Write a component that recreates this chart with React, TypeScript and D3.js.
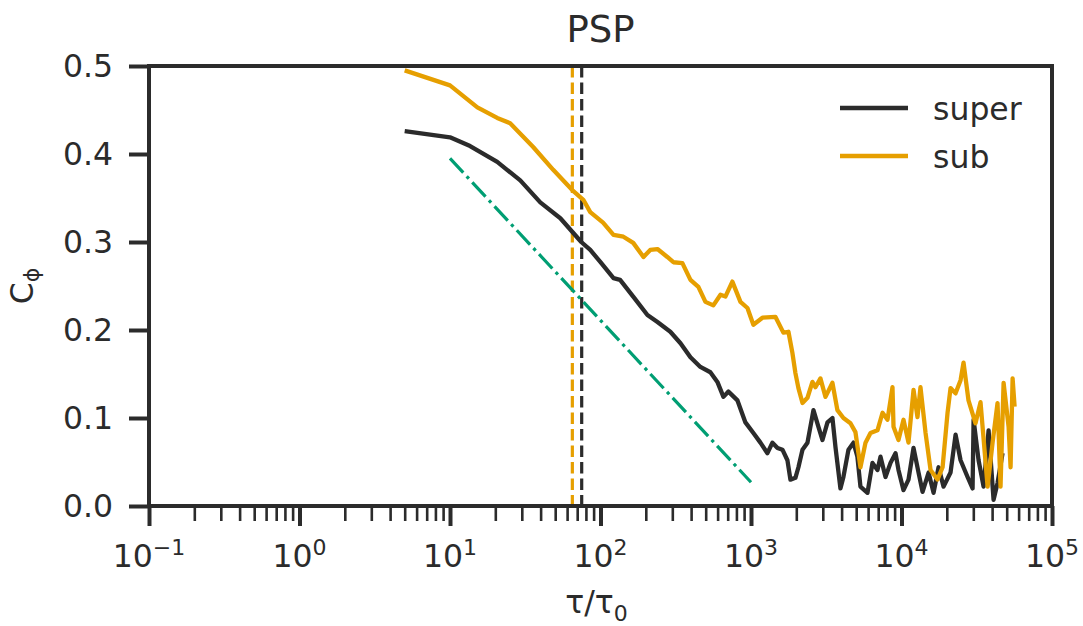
import { useEffect, useRef } from "react";
import * as d3 from "d3";

// tau / tau0 and C_phi for each series
const superTau = [5, 10, 13.6, 20.6, 29.3, 39.8, 54.1, 74.5, 85.5, 100, 122, 135, 165, 205, 239, 291, 340, 396, 461, 537, 598, 656, 708, 813, 918, 1037, 1155, 1286, 1388, 1500, 1618, 1746, 1828, 1973, 2066, 2198, 2373, 2600, 2806, 2985, 3222, 3477, 3641, 3929, 4113, 4443, 4797, 5094, 5336, 5943, 6414, 6925, 7252, 7830, 8453, 9125, 9550, 10310, 11130, 12020, 12980, 13800, 15130, 16330, 17630, 19030, 21180, 22870, 24690, 27480, 29670, 30130, 32520, 35110, 37900, 40910, 43460, 46930];
const superC = [0.426, 0.419, 0.409, 0.391, 0.37, 0.345, 0.327, 0.3, 0.291, 0.277, 0.259, 0.257, 0.238, 0.217, 0.209, 0.198, 0.185, 0.169, 0.158, 0.152, 0.141, 0.124, 0.13, 0.12, 0.095, 0.083, 0.072, 0.06, 0.072, 0.066, 0.064, 0.052, 0.03, 0.032, 0.044, 0.064, 0.072, 0.109, 0.09, 0.075, 0.095, 0.1, 0.067, 0.02, 0.033, 0.064, 0.072, 0.056, 0.022, 0.015, 0.049, 0.041, 0.056, 0.033, 0.049, 0.06, 0.041, 0.018, 0.03, 0.066, 0.038, 0.016, 0.038, 0.015, 0.044, 0.022, 0.038, 0.081, 0.052, 0.033, 0.02, 0.098, 0.052, 0.022, 0.086, 0.007, 0.026, 0.06];

const subTau = [5, 10, 15.2, 20.6, 25.1, 35.7, 48.5, 64.9, 76.9, 85.5, 104, 122, 142, 165, 193, 214, 239, 278, 305, 350, 396, 447, 498, 562, 627, 676, 752, 851, 947, 1037, 1191, 1452, 1641, 1773, 1884, 1973, 2066, 2198, 2373, 2560, 2680, 2893, 3125, 3477, 3750, 4113, 4581, 4943, 5336, 5765, 6223, 6925, 7480, 8072, 8714, 8850, 9550, 10310, 11130, 12020, 12770, 13370, 14450, 15600, 17340, 18750, 20230, 21180, 22870, 24690, 25830, 27870, 31030, 33500, 37330, 40280, 43460, 45500, 47680, 51470, 53060, 54730, 56430];
const subC = [0.495, 0.478, 0.453, 0.441, 0.435, 0.408, 0.382, 0.359, 0.348, 0.334, 0.322, 0.308, 0.306, 0.299, 0.283, 0.291, 0.292, 0.283, 0.277, 0.276, 0.257, 0.249, 0.232, 0.228, 0.24, 0.238, 0.255, 0.232, 0.225, 0.206, 0.214, 0.215, 0.197, 0.198, 0.174, 0.151, 0.134, 0.117, 0.123, 0.141, 0.135, 0.145, 0.124, 0.14, 0.109, 0.1, 0.094, 0.084, 0.044, 0.072, 0.083, 0.086, 0.106, 0.098, 0.135, 0.09, 0.075, 0.098, 0.072, 0.132, 0.101, 0.135, 0.083, 0.041, 0.03, 0.044, 0.106, 0.134, 0.128, 0.143, 0.163, 0.12, 0.094, 0.118, 0.022, 0.072, 0.117, 0.022, 0.14, 0.09, 0.044, 0.145, 0.113];

// reference slope (dash-dot) end points
const refTau = [10, 1000];
const refC = [0.395, 0.027];

// correlation times (vertical dashed lines)
const superCorrTau = 75;
const subCorrTau = 65;

const yTicks = [0, 0.1, 0.2, 0.3, 0.4, 0.5];
const xDecades = [-1, 0, 1, 2, 3, 4, 5];
const seriesNames = ["super", "sub"];

export default function App() {
  const svgRef = useRef<SVGSVGElement>(null);

  useEffect(() => {
    d3.select(svgRef.current).selectAll("*").remove();

    const svg = d3.select(svgRef.current)
      .attr("width", 1083)
      .attr("height", 626)
      .style("background", "#fff")
      .style("font-family", "DejaVu Sans, sans-serif");

    const ink = "#2b2b2b";
    const colors = [ink, "#E69F00"];
    const left = 149, right = 1052, top = 66, bottom = 506;
    const fs = 31.5;

    const x = d3.scaleLog().domain([0.1, 1e5]).range([left, right]);
    const y = d3.scaleLinear().domain([0, 0.5]).range([bottom, top]);

    const line = d3.line<[number, number]>()
      .x(d => x(d[0]))
      .y(d => y(d[1]));

    // vertical dashed lines
    [superCorrTau, subCorrTau].forEach((t, i) => {
      svg.append("line")
        .attr("x1", x(t)).attr("x2", x(t))
        .attr("y1", top).attr("y2", bottom)
        .attr("stroke", colors[i])
        .attr("stroke-width", 3.2)
        .attr("stroke-dasharray", "11.5,5");
    });

    // reference slope
    svg.append("path")
      .attr("d", line(d3.zip(refTau, refC) as [number, number][]))
      .attr("fill", "none")
      .attr("stroke", "#009E73")
      .attr("stroke-width", 3.2)
      .attr("stroke-dasharray", "19.5,5,3.2,5");

    // data lines
    const series = [d3.zip(superTau, superC), d3.zip(subTau, subC)] as [number, number][][];
    series.forEach((s, i) => {
      svg.append("path")
        .attr("d", line(s))
        .attr("fill", "none")
        .attr("stroke", colors[i])
        .attr("stroke-width", 4.3)
        .attr("stroke-linejoin", "round");
    });

    // minor x ticks
    const minor: number[] = [];
    xDecades.slice(0, -1).forEach(d => {
      for (let m = 2; m <= 9; m++) minor.push(m * Math.pow(10, d));
    });
    svg.append("g")
      .attr("transform", `translate(0,${bottom})`)
      .call(d3.axisBottom(x).tickValues(minor).tickSize(15).tickFormat(() => ""))
      .call(g => g.select(".domain").remove())
      .call(g => g.selectAll("line").attr("stroke", ink).attr("stroke-width", 2.6));

    // major x ticks
    svg.append("g")
      .attr("transform", `translate(0,${bottom})`)
      .call(d3.axisBottom(x).tickValues(xDecades.map(d => Math.pow(10, d))).tickSize(20).tickFormat(() => ""))
      .call(g => g.select(".domain").remove())
      .call(g => g.selectAll("line").attr("stroke", ink).attr("stroke-width", 4));

    const xl = svg.append("g")
      .selectAll("text")
      .data(xDecades)
      .join("text")
      .attr("x", d => x(Math.pow(10, d)))
      .attr("y", 567)
      .attr("text-anchor", "middle")
      .attr("fill", ink)
      .attr("font-size", fs);
    xl.append("tspan").text("10");
    xl.append("tspan")
      .attr("dy", -12)
      .attr("font-size", 22)
      .text(d => (d < 0 ? "\u2212" + Math.abs(d) : String(d)));

    // y axis
    svg.append("g")
      .attr("transform", `translate(${left},0)`)
      .call(d3.axisLeft(y).tickValues(yTicks).tickSize(20).tickPadding(16).tickFormat(d3.format(".1f")))
      .call(g => g.select(".domain").remove())
      .call(g => g.selectAll("line").attr("stroke", ink).attr("stroke-width", 4))
      .call(g => g.selectAll("text").attr("fill", ink).attr("font-size", fs).attr("font-family", "DejaVu Sans, sans-serif"));

    // spines
    svg.append("rect")
      .attr("x", left).attr("y", top)
      .attr("width", right - left).attr("height", bottom - top)
      .attr("fill", "none")
      .attr("stroke", ink)
      .attr("stroke-width", 4);

    // title
    svg.append("text")
      .attr("x", (left + right) / 2).attr("y", 42)
      .attr("text-anchor", "middle")
      .attr("fill", ink)
      .attr("font-size", 37)
      .text("PSP");

    // x label
    const xlab = svg.append("text")
      .attr("x", (left + right) / 2 - 4).attr("y", 613)
      .attr("text-anchor", "middle")
      .attr("fill", ink)
      .attr("font-size", fs);
    xlab.append("tspan").text("\u03c4/\u03c4");
    xlab.append("tspan").attr("dy", 8).attr("font-size", 22).text("0");

    // y label
    const ylab = svg.append("text")
      .attr("transform", `translate(33,${(top + bottom) / 2}) rotate(-90)`)
      .attr("text-anchor", "middle")
      .attr("fill", ink)
      .attr("font-size", fs);
    ylab.append("tspan").text("C");
    ylab.append("tspan").attr("dy", 6).attr("font-size", 22).text("\u03d5");

    // legend
    seriesNames.forEach((name, i) => {
      const ly = 108 + i * 48;
      svg.append("line")
        .attr("x1", 840).attr("x2", 908)
        .attr("y1", ly).attr("y2", ly)
        .attr("stroke", colors[i])
        .attr("stroke-width", 4.3);
      svg.append("text")
        .attr("x", 933).attr("y", ly + 12)
        .attr("fill", ink)
        .attr("font-size", fs)
        .text(name);
    });
  }, []);

  return <svg ref={svgRef} style={{ position: "absolute", left: 0, top: 0 }}></svg>;
}
